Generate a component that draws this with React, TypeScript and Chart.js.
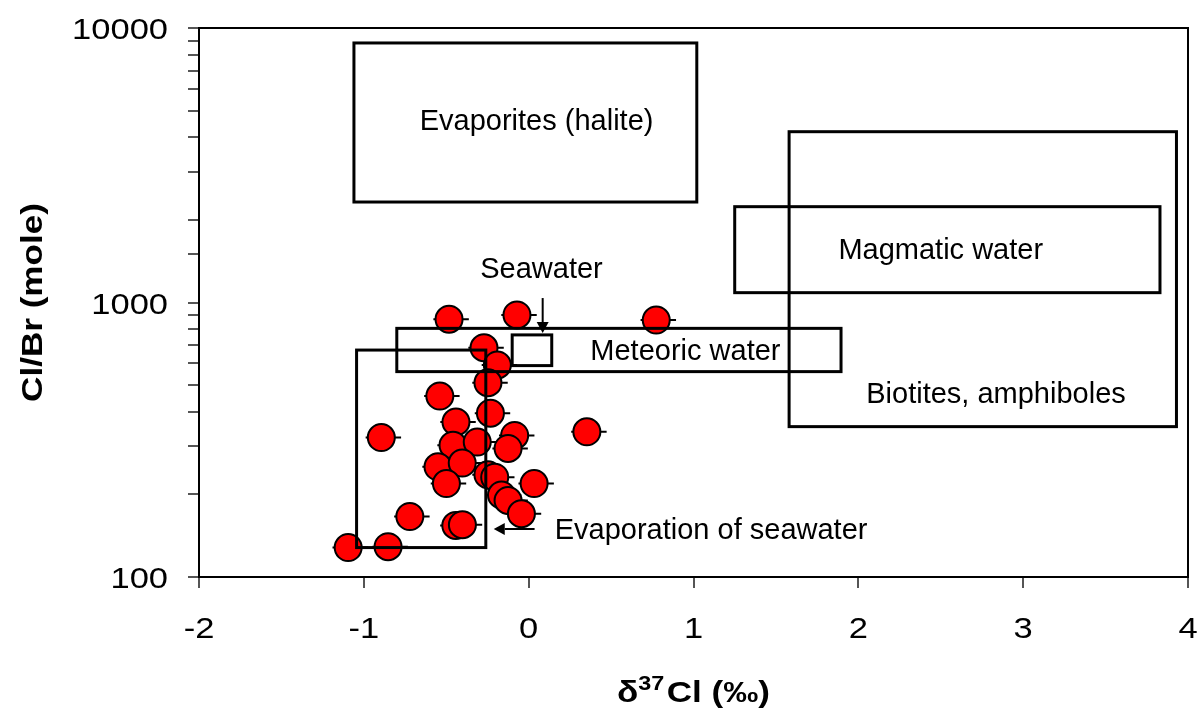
import React, { useEffect, useRef } from 'react';
import { Chart, registerables } from 'chart.js';

Chart.register(...registerables);

const FONT = '"Liberation Sans", Arial, Helvetica, sans-serif';

// ---- data: δ37Cl (‰) and Cl/Br (molar) ----
const delta37Cl = [
  -0.483, -0.071, -0.271, -0.19, -0.247, -0.539, -0.232, -0.441, -0.894, -0.085,
  -0.459, -0.312, -0.125, -0.55, -0.403, -0.499, -0.247, -0.206, 0.033, -0.165,
  -0.125, -0.044, -0.721, -0.442, -0.402, -1.095, -0.853, 0.353, 0.774,
];
const clBrRatio = [
  869, 901, 684, 592, 510, 456, 395, 367, 322, 328,
  302, 310, 294, 252, 260, 219, 236, 231, 219, 199,
  190, 170, 166, 154, 155, 128, 129, 338, 863,
];
const errMinus = 0.095;
const errPlus = 0.12;

// ---- axes ----
const xMin = -2;
const xMax = 4;
const xStep = 1;
const xTickValues = [-2, -1, 0, 1, 2, 3, 4];
const yMin = 100;
const yMax = 10000;
const yTickLabels = [100, 1000, 10000];
const xTitleMain = 'δ';
const xTitleSup = '37';
const xTitleRest = 'Cl (‰)';
const yTitle = 'Cl/Br (mole)';

// ---- reservoir boxes: [x0, x1, yLow, yHigh] ----
const evaporitesBox = [-1.06, 1.02, 2323, 8820];
const biotitesBox = [1.58, 3.93, 353, 4190];
const magmaticBox = [1.25, 3.83, 1086, 2234];
const meteoricBox = [-0.8, 1.895, 560, 805];
const seawaterBox = [-0.1, 0.14, 589, 762];
const evaporationBox = [-1.044, -0.26, 128, 671];
const boxes = [evaporitesBox, biotitesBox, magmaticBox, meteoricBox, seawaterBox, evaporationBox];

// ---- text labels (left x, baseline y) ----
const labelTexts = [
  'Evaporites (halite)',
  'Magmatic water',
  'Biotites, amphiboles',
  'Meteoric water',
  'Seawater',
  'Evaporation of seawater',
];
const labelX = [-0.661, 1.879, 2.048, 0.374, -0.294, 0.158];
const labelY = [4250, 1440, 431.5, 617, 1228, 138];

// ---- arrows: [xFrom, yFrom, xTo, yTo] ----
const seawaterArrow = [0.085, 1038, 0.085, 774];
const evaporationArrow = [0.036, 149.6, -0.212, 149.6];
const arrows = [seawaterArrow, evaporationArrow];

const TICK_STRETCH = 1.15;
const TITLE_STRETCH = 1.17;
const W = 1198;
const H = 716;
const PAD_RIGHT = 10;

function stretchedText(ctx: any, text: string, x: number, y: number, sx: number) {
  ctx.save();
  ctx.translate(x, y);
  ctx.scale(sx, 1);
  ctx.fillText(text, 0, 0);
  ctx.restore();
}

const overlayPlugin = {
  id: 'overlay',
  afterLayout(chart: any) {
    const xs = chart.scales.x;
    const right = chart.width - PAD_RIGHT;
    if (Math.abs(xs.right - right) > 0.5) {
      xs.right = right;
      xs.width = right - xs.left;
      chart.chartArea.right = right;
      chart.chartArea.width = right - chart.chartArea.left;
      xs.configure();
    }
  },
  beforeDatasetsDraw(chart: any) {
    const { ctx, scales } = chart;
    const xs = scales.x;
    const ys = scales.y;
    ctx.save();
    ctx.strokeStyle = '#000';
    ctx.lineWidth = 2;
    for (let i = 0; i < delta37Cl.length; i++) {
      const py = ys.getPixelForValue(clBrRatio[i]);
      ctx.beginPath();
      ctx.moveTo(xs.getPixelForValue(delta37Cl[i] - errMinus), py);
      ctx.lineTo(xs.getPixelForValue(delta37Cl[i] + errPlus), py);
      ctx.stroke();
    }
    ctx.restore();
  },
  afterDatasetsDraw(chart: any) {
    const { ctx, scales, chartArea } = chart;
    const xs = scales.x;
    const ys = scales.y;
    ctx.save();
    ctx.strokeStyle = '#000';
    ctx.lineWidth = 3;
    for (const b of boxes) {
      const x0 = xs.getPixelForValue(b[0]);
      const x1 = xs.getPixelForValue(b[1]);
      const y0 = ys.getPixelForValue(b[3]);
      const y1 = ys.getPixelForValue(b[2]);
      ctx.strokeRect(x0, y0, x1 - x0, y1 - y0);
    }
    // arrows
    ctx.lineWidth = 2;
    ctx.fillStyle = '#000';
    for (const a of arrows) {
      const px0 = xs.getPixelForValue(a[0]);
      const py0 = ys.getPixelForValue(a[1]);
      const px1 = xs.getPixelForValue(a[2]);
      const py1 = ys.getPixelForValue(a[3]);
      const ang = Math.atan2(py1 - py0, px1 - px0);
      const hl = 11;
      const hw = 6;
      const bx = px1 - hl * Math.cos(ang);
      const by = py1 - hl * Math.sin(ang);
      ctx.beginPath();
      ctx.moveTo(px0, py0);
      ctx.lineTo(bx, by);
      ctx.stroke();
      ctx.beginPath();
      ctx.moveTo(px1, py1);
      ctx.lineTo(bx + hw * Math.sin(ang), by - hw * Math.cos(ang));
      ctx.lineTo(bx - hw * Math.sin(ang), by + hw * Math.cos(ang));
      ctx.closePath();
      ctx.fill();
    }
    // labels
    ctx.font = `29px ${FONT}`;
    ctx.textAlign = 'left';
    ctx.textBaseline = 'alphabetic';
    for (let i = 0; i < labelTexts.length; i++) {
      ctx.fillText(labelTexts[i], xs.getPixelForValue(labelX[i]), ys.getPixelForValue(labelY[i]));
    }
    // plot frame
    ctx.lineWidth = 2;
    ctx.strokeRect(chartArea.left, chartArea.top, chartArea.right - chartArea.left, chartArea.bottom - chartArea.top);
    ctx.restore();
  },
  afterDraw(chart: any) {
    const { ctx, chartArea, scales } = chart;
    const xs = scales.x;
    const ys = scales.y;
    // tick labels
    ctx.save();
    ctx.fillStyle = '#000';
    ctx.font = `30px ${FONT}`;
    ctx.textBaseline = 'alphabetic';
    ctx.textAlign = 'center';
    for (const v of xTickValues) {
      stretchedText(ctx, String(v), xs.getPixelForValue(v), chartArea.bottom + 61, TICK_STRETCH);
    }
    ctx.textAlign = 'right';
    for (const v of yTickLabels) {
      stretchedText(ctx, String(v), chartArea.left - 31, ys.getPixelForValue(v) + 11, TICK_STRETCH);
    }
    ctx.restore();
    // y title
    ctx.save();
    ctx.fillStyle = '#000';
    ctx.font = `bold 30px ${FONT}`;
    ctx.textAlign = 'center';
    ctx.textBaseline = 'middle';
    ctx.translate(34, (chartArea.top + chartArea.bottom) / 2);
    ctx.rotate(-Math.PI / 2);
    ctx.scale(TITLE_STRETCH, 1);
    ctx.fillText(yTitle, 0, 0);
    ctx.restore();
    // x title
    ctx.save();
    ctx.fillStyle = '#000';
    ctx.textBaseline = 'alphabetic';
    ctx.textAlign = 'left';
    const bigFont = `bold 30px ${FONT}`;
    const supFont = `bold 20px ${FONT}`;
    ctx.font = bigFont;
    const w1 = ctx.measureText(xTitleMain).width;
    const w3 = ctx.measureText(xTitleRest).width;
    ctx.font = supFont;
    const w2 = ctx.measureText(xTitleSup).width;
    const total = (w1 + w2 + 2 + w3) * TITLE_STRETCH;
    const cx = (chartArea.left + chartArea.right) / 2;
    ctx.translate(cx - total / 2, 702);
    ctx.scale(TITLE_STRETCH, 1);
    let x = 0;
    ctx.font = bigFont;
    ctx.fillText(xTitleMain, x, 0);
    x += w1;
    ctx.font = supFont;
    ctx.fillText(xTitleSup, x, -12);
    x += w2 + 2;
    ctx.font = bigFont;
    ctx.fillText(xTitleRest, x, 0);
    ctx.restore();
  },
};

export default function App() {
  const canvasRef = useRef<HTMLCanvasElement | null>(null);

  useEffect(() => {
    document.body.style.margin = '0';
    document.body.style.overflow = 'hidden';
    const canvas = canvasRef.current;
    if (!canvas) return;
    const points = delta37Cl.map((x, i) => ({ x, y: clBrRatio[i] }));
    const chart = new Chart(canvas, {
      type: 'scatter',
      data: {
        datasets: [
          {
            data: points,
            backgroundColor: '#FF0000',
            borderColor: '#000000',
            borderWidth: 2,
            pointRadius: 13.5,
            pointHoverRadius: 13.5,
          },
        ],
      },
      plugins: [overlayPlugin],
      options: {
        animation: false,
        responsive: false,
        devicePixelRatio: 1,
        layout: { padding: { top: 28, right: PAD_RIGHT, left: 0, bottom: 0 } },
        plugins: {
          legend: { display: false },
          tooltip: { enabled: false },
        },
        scales: {
          x: {
            type: 'linear',
            min: xMin,
            max: xMax,
            afterFit: (scale: any) => {
              scale.height = 139;
            },
            ticks: {
              display: false,
              stepSize: xStep,
            },
            grid: {
              drawOnChartArea: false,
              drawTicks: true,
              tickLength: 11,
              color: '#555',
              lineWidth: 2,
            },
            border: { display: true, color: '#000', width: 2 },
          },
          y: {
            type: 'logarithmic',
            min: yMin,
            max: yMax,
            afterFit: (scale: any) => {
              scale.width = 199;
            },
            ticks: {
              display: false,
              autoSkip: false,
            },
            grid: {
              drawOnChartArea: false,
              drawTicks: true,
              tickLength: 11,
              color: '#555',
              lineWidth: 2,
            },
            border: { display: true, color: '#000', width: 2 },
          },
        },
      },
    });
    return () => chart.destroy();
  }, []);

  return (
    <div style={{ width: `${W}px`, height: `${H}px`, position: 'relative' }}>
      <canvas ref={canvasRef} width={W} height={H} style={{ display: 'block', width: `${W}px`, height: `${H}px` }} />
    </div>
  );
}
